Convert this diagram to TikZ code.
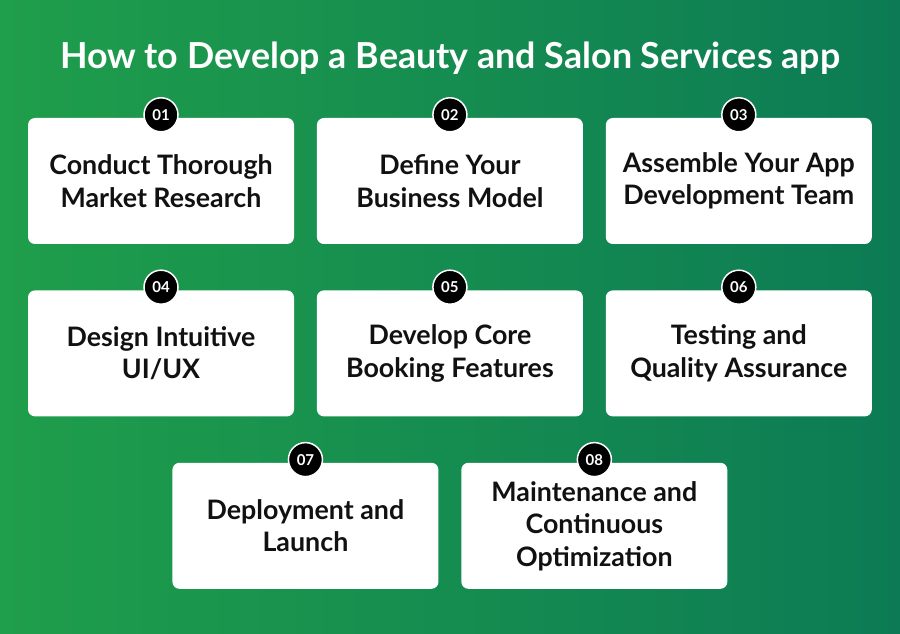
\documentclass[tikz,border=0pt]{standalone}
\usepackage{fontspec}
\setmainfont{Lato}
\usepackage{xcolor}
\usetikzlibrary{positioning, calc}
\definecolor{leafgreen}{HTML}{1F9E4B}
\definecolor{deepgreen}{HTML}{0C7B55}
\definecolor{inkblack}{HTML}{111111}

\begin{document}
\begin{tikzpicture}[x=1pt, y=1pt, node distance=46pt and 22.5pt,
    stepcard/.style={rectangle, fill=white, rounded corners=7pt, minimum width=266pt, minimum height=126pt, inner sep=0pt, align=center, text=inkblack, font=\bfseries\fontsize{26.8}{32.5}\selectfont},
    badge/.style={circle, fill=black, draw=white, line width=1.5pt, minimum size=34pt, inner sep=0pt, text=white, font=\bfseries\fontsize{15}{15}\selectfont}]
    % background
    \fill[left color=leafgreen, right color=deepgreen] (0,0) rectangle (900,633);
    \node (title) at (450,574.5) [text=white, font=\bfseries\fontsize{35.8}{40}\selectfont] {How to Develop a Beauty and Salon Services app};

    \node (research) [stepcard] at (161,452) {Conduct Thorough\\Market Research};
    \node (model) [stepcard, right=of research] {Define Your\\Business Model};
    \node (team) [stepcard, right=of model] {Assemble Your App\\Development Team};
    \node (design) [stepcard, below=of research] {Design Intuitive\\UI/UX};
    \node (booking) [stepcard, right=of design] {Develop Core\\Booking Features};
    \node (testing) [stepcard, right=of booking] {Testing and\\Quality Assurance};
    \coordinate (gapA) at ($(design.south)!0.5!(booking.south)$);
    \coordinate (gapB) at ($(booking.south)!0.5!(testing.south)$);
    \node (launch) [stepcard, below=of gapA] {Deployment and\\Launch};
    \node (upkeep) [stepcard, below=of gapB] {Maintenance and\\Continuous\\Optimization};

    % numbers
    \foreach \card/\num in {research/01, model/02, team/03, design/04, booking/05, testing/06, launch/07, upkeep/08}
        \node (n\num) [badge] at ([yshift=3pt]\card.north) {\num};
\end{tikzpicture}
\end{document}
